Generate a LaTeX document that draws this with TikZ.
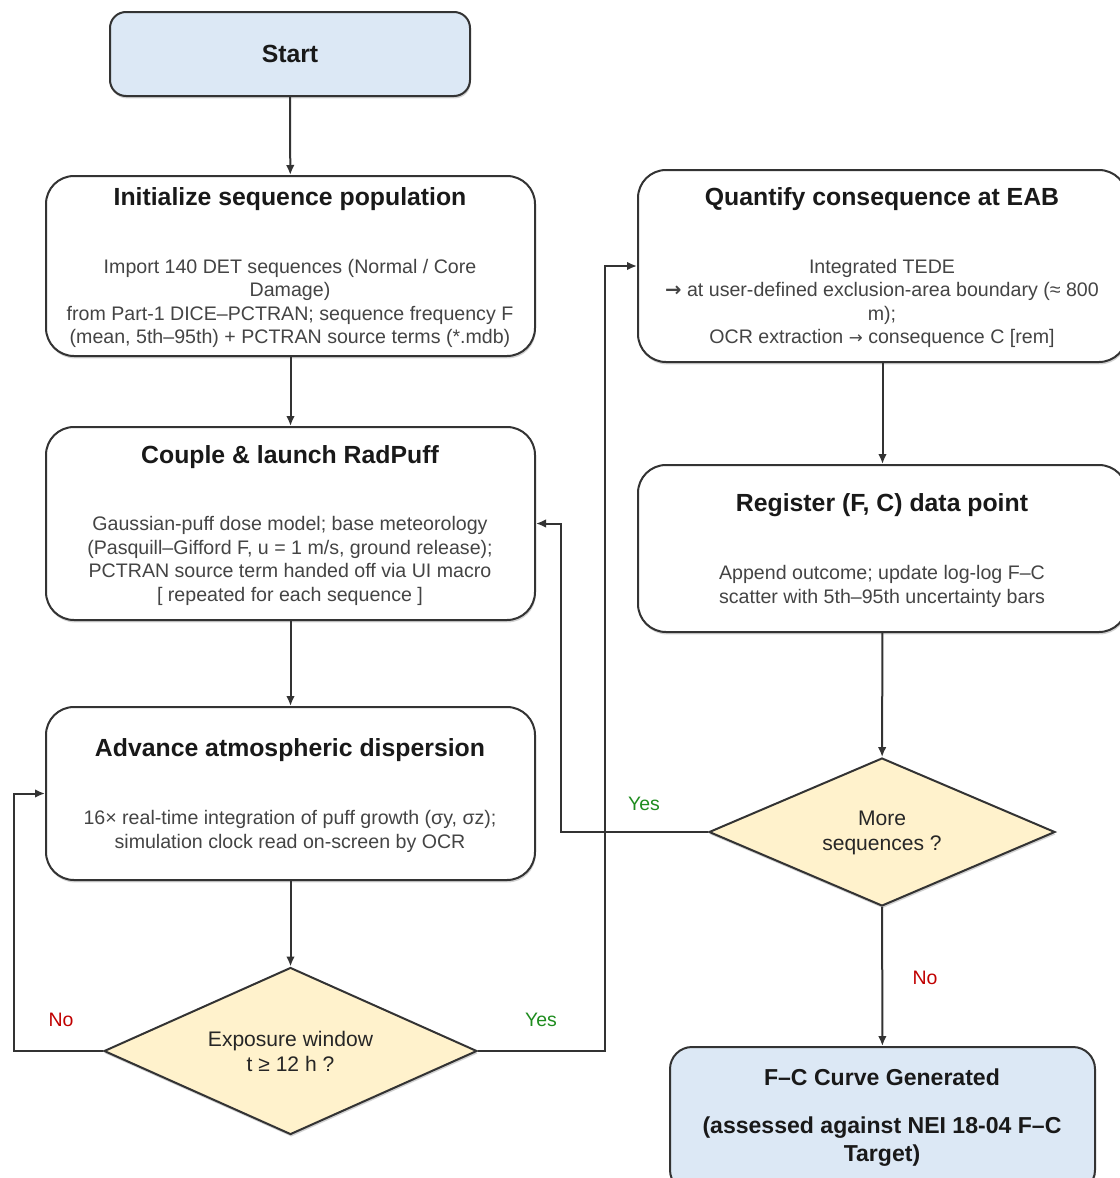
\documentclass[tikz,border=0pt]{standalone}
\usepackage{fontspec}
\setmainfont{Liberation Sans}
\newfontfamily\arrowfont{DejaVu Sans}
\usetikzlibrary{shapes.geometric,arrows.meta,shadows}
\definecolor{startblue}{HTML}{DCE8F5}
\definecolor{decyellow}{HTML}{FFF2CC}
\definecolor{edgegray}{HTML}{333333}
\definecolor{bodygray}{HTML}{444444}
\definecolor{yesgreen}{HTML}{1E8C1E}
\definecolor{nored}{HTML}{C00000}
\begin{document}
\begin{tikzpicture}[x=0.75pt,y=-0.75pt,
  shad/.style={drop shadow={shadow xshift=0.6pt,shadow yshift=-1.8pt,opacity=0.18,fill=black}},
  procbox/.style={draw=edgegray,line width=1.5pt,rounded corners=21pt,fill=white,shad,
    minimum width=366.75pt,inner sep=0pt},
  termbox/.style={draw=edgegray,line width=1.5pt,fill=startblue,shad,inner sep=0pt},
  decbox/.style={diamond,draw=edgegray,line width=1.5pt,fill=decyellow,shad,inner sep=0pt},
  ttl/.style={font=\fontsize{18.6}{22}\selectfont\bfseries,text=black!90,inner sep=0pt},
  bodytxt/.style={font=\fontsize{14.7}{17.6}\selectfont,text=bodygray,align=center,inner sep=0pt},
  dectxt/.style={font=\fontsize{15.8}{19}\selectfont,text=black!85,align=center,inner sep=0pt},
  lbl/.style={font=\fontsize{14.6}{17}\selectfont,inner sep=0pt},
  conn/.style={draw=edgegray,line width=1.5pt,-{Latex[length=7.5pt,width=6.5pt]}}]
\clip (0,0) rectangle (1120,1178);
\useasboundingbox (0,0) rectangle (1120,1178);

% Start
\node[termbox,rounded corners=12pt,minimum width=270pt,minimum height=63pt] (start) at (290,54) {};
\node[ttl] (starttxt) at (290,54) {Start};

% Initialize
\node[procbox,minimum height=135pt] (init) at (290.5,266) {};
\node[ttl] (initttl) at (290,199) {Initialize sequence population};
\node[bodytxt] (initbody) at (290,303.5) {Import 140 DET sequences (Normal / Core\\Damage)\\from Part-1 DICE–PCTRAN; sequence frequency F\\(mean, 5th–95th) + PCTRAN source terms (*.mdb)};

% Couple
\node[procbox,minimum height=144.75pt] (couple) at (290.5,523.5) {};
\node[ttl] (couplettl) at (290,457) {Couple \& launch RadPuff};
\node[bodytxt] (couplebody) at (290,561) {Gaussian-puff dose model; base meteorology\\(Pasquill–Gifford F, u = 1 m/s, ground release);\\PCTRAN source term handed off via UI macro\\{[} repeated for each sequence {]}};

% Advance
\node[procbox,minimum height=129.75pt] (adv) at (290.5,793.5) {};
\node[ttl] (advttl) at (290,750) {Advance atmospheric dispersion};
\node[bodytxt] (advbody) at (290,831.5) {16× real-time integration of puff growth (σy, σz);\\simulation clock read on-screen by OCR};

% Decision 1
\node[decbox,minimum width=279.75pt,minimum height=125.25pt] (d1) at (290.5,1051) {};
\node[dectxt] (d1txt) at (290.5,1051.5) {Exposure window\\t ≥ 12 h ?};

% Quantify
\node[procbox,minimum height=144pt] (quant) at (882.5,266) {};
\node[ttl] (quantttl) at (882,199) {Quantify consequence at EAB};
\node[bodytxt] (quantbody) at (882,303.5) {Integrated TEDE\\{\arrowfont\bfseries →} at user-defined exclusion-area boundary (≈ 800\\m);\\OCR extraction {\arrowfont\fontsize{12.5}{15}\selectfont →} consequence C [rem]};

% Register
\node[procbox,minimum height=125.25pt] (reg) at (882.5,548.5) {};
\node[ttl] (regttl) at (882,505) {Register (F, C) data point};
\node[bodytxt] (regbody) at (882,586.5) {Append outcome; update log-log F–C\\scatter with 5th–95th uncertainty bars};

% Decision 2
\node[decbox,minimum width=259.5pt,minimum height=111pt] (d2) at (882,832) {};
\node[dectxt] (d2txt) at (882,833) {More\\sequences ?};

% End
\node[termbox,rounded corners=16.5pt,minimum width=318.75pt,minimum height=108.75pt] (fin) at (882.5,1119.5) {};
\node[ttl,font=\fontsize{17.3}{20.5}\selectfont\bfseries] (finttl) at (882,1077) {F–C Curve Generated};
\node[ttl,font=\fontsize{17.3}{20.5}\selectfont\bfseries,align=center] (finbody) at (882,1141.5) {(assessed against NEI 18-04 F–C\\Target)};

% connectors
\draw[conn] (start) -- (init);
\draw[conn] (init) -- (couple);
\draw[conn] (couple) -- (adv);
\draw[conn] (adv) -- (d1);
\coordinate (noturn) at (14,1051);
\draw[conn] (d1.west) -- (noturn) |- (adv.west);
\coordinate (yesturn) at (605,1051);
\draw[conn] (d1.east) -- (yesturn) |- (quant.west);
\draw[conn] (quant) -- (reg);
\draw[conn] (reg) -- (d2);
\coordinate (loopturn) at (561,832);
\draw[conn] (d2.west) -- (loopturn) |- (couple.east);
\draw[conn] (d2) -- (fin);

% labels
\node[lbl,text=nored] (no1) at (61,1020) {No};
\node[lbl,text=yesgreen] (yes1) at (541,1020) {Yes};
\node[lbl,text=yesgreen] (yes2) at (644,804) {Yes};
\node[lbl,text=nored] (no2) at (925,978) {No};
\end{tikzpicture}
\end{document}
